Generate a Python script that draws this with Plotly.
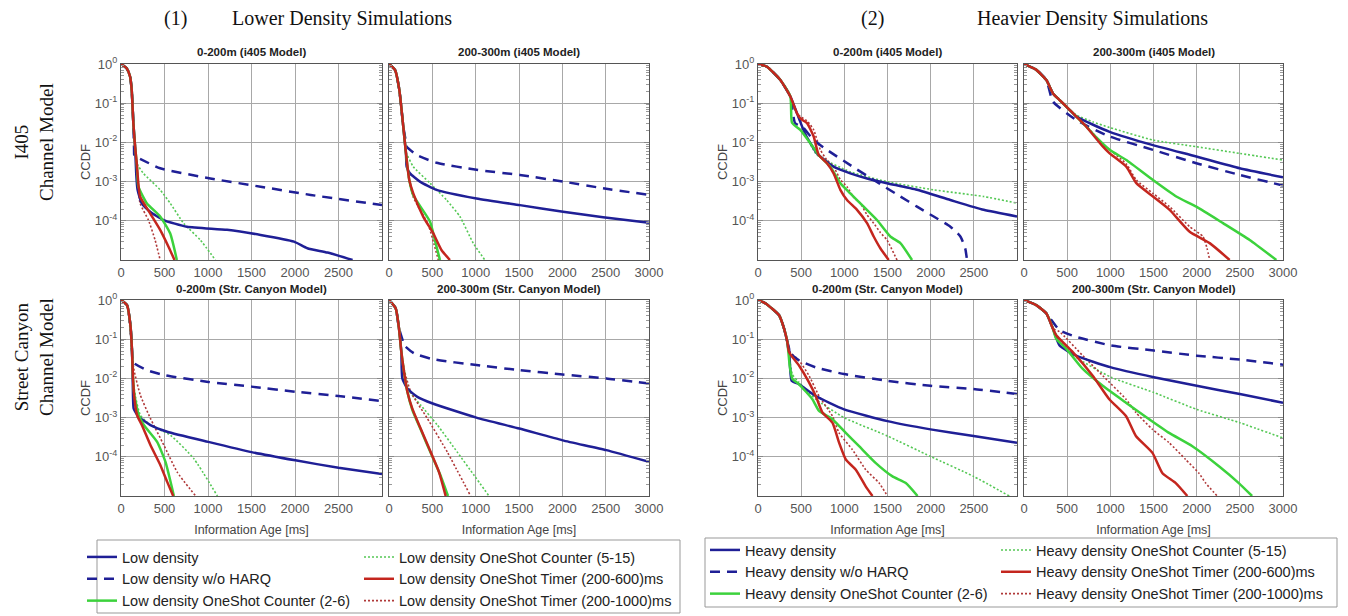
import plotly.graph_objects as go

W, H = 1348, 616

# ---------------- text / ticks ----------------
X_TICKS = [0, 500, 1000, 1500, 2000, 2500, 3000]
Y_TICK_VALUES = [1, 0.1, 0.01, 0.001, 0.0001]
Y_TICK_TEXT = ["10<sup>0</sup>", "10<sup>-1</sup>", "10<sup>-2</sup>", "10<sup>-3</sup>", "10<sup>-4</sup>"]
PANEL_TITLES = ["0-200m (i405 Model)", "200-300m (i405 Model)", "0-200m (i405 Model)", "200-300m (i405 Model)",
                "0-200m (Str. Canyon Model)", "200-300m (Str. Canyon Model)",
                "0-200m (Str. Canyon Model)", "200-300m (Str. Canyon Model)"]
LOW_NAMES = ["Low density", "Low density w/o HARQ", "Low density OneShot Counter (2-6)",
             "Low density OneShot Counter (5-15)", "Low density OneShot Timer (200-600)ms",
             "Low density OneShot Timer (200-1000)ms"]
HEAVY_NAMES = ["Heavy density", "Heavy density w/o HARQ", "Heavy density OneShot Counter (2-6)",
               "Heavy density OneShot Counter (5-15)", "Heavy density OneShot Timer (200-600)ms",
               "Heavy density OneShot Timer (200-1000)ms"]

# ---------------- data (x in ms, y as log10 of CCDF) ----------------
# Panel 1: low density, i405, 0-200m
P1_SOLID_X = [0, 65, 104, 123, 142, 162, 175, 190, 238, 335, 488, 758, 1219, 1604, 1988, 2142, 2373, 2662]
P1_SOLID_E = [0, -0.11, -0.32, -0.66, -1.51, -2.11, -2.8, -3.2, -3.55, -3.77, -3.98, -4.15, -4.23, -4.36, -4.53, -4.7, -4.81, -5.0]
P1_NHARQ_X = [0, 65, 104, 123, 142, 150, 155, 219, 450, 1027, 1604, 2181, 3000]
P1_NHARQ_E = [0, -0.11, -0.32, -0.66, -1.51, -2.15, -2.35, -2.42, -2.66, -2.92, -3.13, -3.34, -3.6]
P1_CNT26_X = [0, 65, 104, 123, 142, 162, 181, 200, 296, 450, 565, 642]
P1_CNT26_E = [0, -0.11, -0.32, -0.66, -1.51, -2.11, -2.53, -3.13, -3.55, -3.89, -4.32, -5.0]
P1_CNT515_X = [0, 65, 104, 123, 142, 162, 181, 258, 450, 565, 719, 912, 1085]
P1_CNT515_E = [0, -0.11, -0.32, -0.66, -1.51, -2.11, -2.53, -2.79, -3.21, -3.55, -4.06, -4.49, -5.0]
P1_T600_X = [0, 65, 104, 123, 142, 162, 181, 219, 335, 450, 546, 615]
P1_T600_E = [0, -0.11, -0.32, -0.66, -1.51, -2.11, -2.53, -3.38, -3.81, -4.23, -4.66, -5.0]
P1_T1000_X = [0, 65, 104, 123, 142, 162, 181, 219, 315, 392, 450]
P1_T1000_E = [0, -0.11, -0.32, -0.66, -1.51, -2.11, -2.53, -3.55, -3.98, -4.49, -5.0]

# Panel 2: low density, i405, 200-300m
P2_SOLID_X = [0, 69, 119, 165, 196, 204, 242, 357, 549, 1010, 1510, 2009, 2470, 3000]
P2_SOLID_E = [0, -0.15, -0.66, -1.6, -2.28, -2.62, -2.79, -3.0, -3.21, -3.43, -3.6, -3.77, -3.91, -4.05]
P2_NHARQ_X = [0, 69, 119, 165, 200, 204, 319, 549, 1010, 1510, 2009, 2470, 3000]
P2_NHARQ_E = [0, -0.15, -0.66, -1.6, -2.05, -2.11, -2.32, -2.52, -2.7, -2.83, -3.0, -3.17, -3.34]
P2_CNT26_X = [0, 69, 119, 165, 196, 234, 280, 473, 530, 588]
P2_CNT26_E = [0, -0.15, -0.66, -1.6, -2.28, -2.96, -3.35, -4.02, -4.5, -5.0]
P2_CNT515_X = [0, 69, 119, 165, 196, 204, 280, 473, 665, 818, 972, 1106]
P2_CNT515_E = [0, -0.15, -0.66, -1.6, -2.28, -2.3, -2.62, -3.04, -3.47, -3.89, -4.57, -5.0]
P2_T600_X = [0, 69, 119, 165, 196, 234, 280, 396, 511, 607, 703]
P2_T600_E = [0, -0.15, -0.66, -1.6, -2.28, -2.96, -3.3, -3.9, -4.32, -4.75, -5.0]
P2_T1000_X = [0, 69, 119, 165, 196, 234, 280, 453, 520, 569]
P2_T1000_E = [0, -0.15, -0.66, -1.6, -2.28, -3.0, -3.4, -4.1, -4.6, -5.0]

# Panel 3: heavy density, i405, 0-200m
P3_SOLID_X = [0, 104, 259, 375, 452, 550, 683, 876, 1069, 1263, 1494, 1842, 2228, 2614, 3000]
P3_SOLID_E = [0, -0.07, -0.41, -0.83, -1.26, -1.8, -2.28, -2.62, -2.79, -2.92, -3.04, -3.21, -3.47, -3.72, -3.89]
P3_NHARQ_X = [0, 104, 259, 375, 430, 520, 645, 799, 1069, 1340, 1649, 1842, 2035, 2228, 2344, 2400, 2421]
P3_NHARQ_E = [0, -0.07, -0.41, -0.83, -1.51, -1.62, -1.94, -2.19, -2.58, -2.96, -3.38, -3.64, -3.89, -4.15, -4.4, -4.7, -5.0]
P3_CNT26_X = [0, 104, 259, 375, 394, 490, 606, 703, 838, 954, 1069, 1224, 1378, 1533, 1649, 1784]
P3_CNT26_E = [0, -0.07, -0.41, -0.83, -1.5, -1.68, -2.02, -2.32, -2.62, -3.04, -3.3, -3.64, -3.98, -4.4, -4.57, -5.0]
P3_CNT515_X = [0, 104, 259, 375, 452, 550, 683, 1069, 1494, 2035, 2614, 3000]
P3_CNT515_E = [0, -0.07, -0.41, -0.83, -1.26, -1.8, -2.32, -2.75, -3.0, -3.21, -3.38, -3.55]
P3_T600_X = [0, 104, 259, 375, 452, 490, 568, 645, 703, 799, 876, 954, 1031, 1147, 1263, 1340, 1417, 1514]
P3_T600_E = [0, -0.07, -0.41, -0.83, -1.26, -1.39, -1.51, -1.85, -2.32, -2.53, -2.79, -3.21, -3.47, -3.72, -4.06, -4.4, -4.7, -5.0]
P3_T1000_X = [0, 104, 259, 375, 452, 490, 568, 645, 722, 799, 876, 954, 1031, 1108, 1185, 1263, 1340, 1417, 1494, 1610]
P3_T1000_E = [0, -0.07, -0.41, -0.83, -1.26, -1.34, -1.45, -1.68, -2.19, -2.45, -2.62, -2.95, -3.13, -3.4, -3.55, -3.85, -4.06, -4.3, -4.49, -5.0]

# Panel 4: heavy density, i405, 200-300m
P4_SOLID_X = [0, 143, 259, 336, 413, 510, 606, 800, 992, 1494, 1996, 2498, 3000]
P4_SOLID_E = [0, -0.15, -0.41, -0.75, -0.92, -1.13, -1.34, -1.55, -1.73, -2.07, -2.36, -2.66, -2.89]
P4_NHARQ_X = [0, 143, 259, 336, 606, 992, 1494, 1996, 2498, 3000]
P4_NHARQ_E = [0, -0.15, -0.41, -0.96, -1.43, -1.85, -2.19, -2.53, -2.83, -3.1]
P4_CNT26_X = [0, 143, 259, 336, 413, 510, 606, 722, 850, 992, 1185, 1494, 1764, 1996, 2305, 2614, 2923]
P4_CNT26_E = [0, -0.15, -0.41, -0.75, -0.92, -1.13, -1.34, -1.6, -1.9, -2.19, -2.45, -2.96, -3.38, -3.64, -4.06, -4.49, -5.0]
P4_CNT515_X = [0, 143, 259, 336, 413, 510, 606, 800, 992, 1494, 1996, 2498, 3000]
P4_CNT515_E = [0, -0.15, -0.41, -0.75, -0.92, -1.13, -1.3, -1.48, -1.62, -1.94, -2.11, -2.28, -2.45]
P4_T600_X = [0, 143, 259, 336, 413, 510, 606, 722, 915, 992, 1185, 1301, 1494, 1687, 1919, 2151, 2382]
P4_T600_E = [0, -0.15, -0.41, -0.75, -0.92, -1.13, -1.34, -1.6, -2.11, -2.28, -2.62, -3.04, -3.38, -3.72, -4.28, -4.57, -5.0]
P4_T1000_X = [0, 143, 259, 336, 413, 510, 606, 722, 915, 992, 1185, 1301, 1494, 1687, 1919, 2073, 2120, 2151]
P4_T1000_E = [0, -0.15, -0.41, -0.75, -0.92, -1.13, -1.34, -1.58, -2.05, -2.19, -2.55, -2.96, -3.3, -3.64, -4.15, -4.4, -4.7, -5.0]

# Panel 5: low density, street canyon, 0-200m
P5_SOLID_X = [0, 69, 108, 127, 138, 140, 146, 204, 338, 531, 1004, 1500, 2004, 2500, 3000]
P5_SOLID_E = [0, -0.13, -0.64, -1.32, -2.45, -2.6, -2.77, -2.98, -3.19, -3.36, -3.62, -3.88, -4.09, -4.28, -4.44]
P5_NHARQ_X = [0, 69, 108, 127, 138, 300, 504, 1004, 1500, 2004, 2500, 3000]
P5_NHARQ_E = [0, -0.13, -0.64, -1.32, -1.59, -1.79, -1.92, -2.09, -2.21, -2.34, -2.45, -2.58]
P5_CNT26_X = [0, 69, 108, 127, 138, 154, 204, 262, 415, 511, 608]
P5_CNT26_E = [0, -0.13, -0.64, -1.32, -2.0, -2.43, -2.94, -3.19, -3.62, -4.13, -5.0]
P5_CNT515_X = [0, 69, 108, 127, 138, 165, 223, 338, 569, 838, 1108]
P5_CNT515_E = [0, -0.13, -0.64, -1.32, -2.0, -2.45, -2.94, -3.19, -3.45, -4.05, -5.0]
P5_T600_X = [0, 69, 108, 127, 138, 154, 185, 242, 338, 454, 531, 600]
P5_T600_E = [0, -0.13, -0.64, -1.32, -2.0, -2.51, -2.94, -3.2, -3.7, -4.22, -4.64, -5.0]
P5_T1000_X = [0, 69, 108, 146, 223, 338, 492, 646, 858]
P5_T1000_E = [0, -0.13, -0.85, -1.75, -2.43, -3.02, -3.7, -4.39, -5.0]

# Panel 6: low density, street canyon, 200-300m
P6_SOLID_X = [0, 77, 115, 142, 154, 212, 327, 504, 1008, 1504, 2004, 2508, 3000]
P6_SOLID_E = [0, -0.21, -0.72, -1.32, -2.0, -2.26, -2.47, -2.64, -3.0, -3.28, -3.58, -3.83, -4.13]
P6_NHARQ_X = [0, 77, 115, 160, 173, 288, 504, 1008, 1504, 2004, 2508, 3000]
P6_NHARQ_E = [0, -0.21, -0.72, -1.05, -1.15, -1.36, -1.51, -1.66, -1.79, -1.9, -2.0, -2.13]
P6_CNT26_X = [0, 77, 115, 142, 173, 212, 269, 365, 481, 590, 681]
P6_CNT26_E = [0, -0.21, -0.72, -1.32, -1.83, -2.34, -2.8, -3.3, -3.9, -4.45, -5.0]
P6_CNT515_X = [0, 77, 115, 142, 173, 212, 365, 558, 788, 981, 1154]
P6_CNT515_E = [0, -0.21, -0.72, -1.32, -1.83, -2.26, -2.68, -3.19, -3.88, -4.47, -5.0]
P6_T600_X = [0, 77, 115, 142, 173, 212, 269, 365, 481, 577, 654]
P6_T600_E = [0, -0.21, -0.72, -1.32, -1.83, -2.34, -2.77, -3.28, -3.88, -4.39, -5.0]
P6_T1000_X = [0, 77, 115, 142, 173, 250, 442, 673, 942]
P6_T1000_E = [0, -0.21, -0.72, -1.32, -1.75, -2.34, -3.02, -3.88, -5.0]

# Panel 7: heavy density, street canyon, 0-200m
P7_SOLID_X = [0, 89, 244, 302, 340, 360, 390, 475, 669, 997, 1500, 1998, 2497, 3000]
P7_SOLID_E = [0, -0.09, -0.39, -0.73, -1.07, -1.24, -2.06, -2.15, -2.45, -2.79, -3.09, -3.3, -3.47, -3.64]
P7_NHARQ_X = [0, 89, 244, 302, 340, 360, 475, 669, 997, 1500, 1998, 2497, 3000]
P7_NHARQ_E = [0, -0.09, -0.39, -0.73, -1.07, -1.33, -1.54, -1.72, -1.89, -2.06, -2.19, -2.27, -2.4]
P7_CNT26_X = [0, 89, 244, 302, 340, 367, 398, 475, 630, 707, 862, 1017, 1171, 1365, 1558, 1712, 1848]
P7_CNT26_E = [0, -0.09, -0.39, -0.73, -1.07, -1.67, -2.01, -2.15, -2.53, -2.83, -3.04, -3.39, -3.73, -4.16, -4.5, -4.67, -5.0]
P7_CNT515_X = [0, 89, 244, 302, 340, 398, 475, 669, 997, 1500, 1998, 2497, 2911]
P7_CNT515_E = [0, -0.09, -0.39, -0.73, -1.07, -1.9, -2.1, -2.53, -3.0, -3.47, -3.99, -4.5, -5.0]
P7_T600_X = [0, 89, 244, 302, 340, 360, 475, 591, 669, 746, 862, 939, 1017, 1133, 1249, 1326]
P7_T600_E = [0, -0.09, -0.39, -0.73, -1.07, -1.33, -1.67, -2.1, -2.45, -2.87, -3.13, -3.64, -4.07, -4.33, -4.76, -5.0]
P7_T1000_X = [0, 89, 244, 302, 340, 360, 475, 591, 707, 862, 939, 1094, 1249, 1403, 1500]
P7_T1000_E = [0, -0.09, -0.39, -0.73, -1.07, -1.3, -1.54, -1.93, -2.45, -2.96, -3.39, -3.82, -4.33, -4.67, -5.0]

# Panel 8: heavy density, street canyon, 200-300m
P8_SOLID_X = [0, 142, 258, 335, 412, 604, 1008, 1504, 2000, 2500, 3000]
P8_SOLID_E = [0, -0.13, -0.34, -0.73, -1.16, -1.42, -1.72, -1.97, -2.19, -2.4, -2.62]
P8_NHARQ_X = [0, 142, 258, 412, 604, 1008, 1504, 2000, 2500, 3000]
P8_NHARQ_E = [0, -0.13, -0.34, -0.77, -0.94, -1.16, -1.29, -1.42, -1.52, -1.65]
P8_CNT26_X = [0, 142, 258, 335, 373, 488, 681, 912, 1181, 1450, 1681, 1950, 2258, 2488, 2642]
P8_CNT26_E = [0, -0.13, -0.34, -0.73, -0.99, -1.24, -1.76, -2.19, -2.62, -3.04, -3.39, -3.73, -4.24, -4.67, -5.0]
P8_CNT515_X = [0, 142, 258, 335, 412, 604, 1008, 1504, 2000, 2500, 3000]
P8_CNT515_E = [0, -0.13, -0.34, -0.73, -1.0, -1.46, -1.97, -2.36, -2.79, -3.13, -3.52]
P8_T600_X = [0, 142, 258, 335, 373, 565, 796, 988, 1181, 1296, 1488, 1604, 1758, 1892]
P8_T600_E = [0, -0.13, -0.34, -0.73, -0.9, -1.33, -1.93, -2.53, -2.96, -3.47, -3.9, -4.42, -4.67, -5.0]
P8_T1000_X = [0, 142, 258, 335, 412, 681, 912, 1181, 1296, 1488, 1681, 1873, 2027, 2104, 2238]
P8_T1000_E = [0, -0.13, -0.34, -0.73, -0.81, -1.42, -1.93, -2.53, -2.87, -3.3, -3.64, -4.07, -4.42, -4.67, -5.0]

# ---------------- styles ----------------
BLUE = "#1f1f96"
GREEN = "#3cd23c"
GREEN_DOT = "#55c855"
RED = "#c4261e"
RED_DOT = "#b03838"
STYLE = {
    "solid": dict(color=BLUE, width=2.5, dash="solid"),
    "nharq": dict(color=BLUE, width=2.5, dash="10px,7px"),
    "cnt26": dict(color=GREEN, width=2.5, dash="solid"),
    "cnt515": dict(color=GREEN_DOT, width=1.6, dash="2px,2px"),
    "t600": dict(color=RED, width=2.5, dash="solid"),
    "t1000": dict(color=RED_DOT, width=1.6, dash="2px,2px"),
}
KEYS = ["solid", "nharq", "cnt26", "cnt515", "t600", "t1000"]
DRAW_ORDER = ["cnt515", "t1000", "solid", "nharq", "cnt26", "t600"]
LEGEND_COL = {"solid": 0, "nharq": 0, "cnt26": 0, "cnt515": 1, "t600": 1, "t1000": 1}
LEGEND_RANK = {"solid": 1, "nharq": 2, "cnt26": 3, "cnt515": 1, "t600": 2, "t1000": 3}

g = globals()
PANELS = []
for p in range(1, 9):
    PANELS.append({k: (g[f"P{p}_{k.upper()}_X"], g[f"P{p}_{k.upper()}_E"]) for k in KEYS})

# panel pixel boxes (left, right, top, bottom)
COLS = [(121, 382), (389, 649), (758, 1017), (1024, 1283)]
ROWS = [(64, 260), (300, 496)]
TITLE_Y = [52, 289]


def px(x):
    return x / W


def py(y):
    return 1 - y / H


fig = go.Figure()
FONT = "Liberation Sans, Arial, sans-serif"
minor_vals = [k * 10 ** e for e in range(-5, 0) for k in range(2, 10)]

for i in range(8):
    n = i + 1
    r, c = divmod(i, 4)
    heavy = c >= 2
    names = HEAVY_NAMES if heavy else LOW_NAMES
    data = PANELS[i]
    for key in DRAW_ORDER:
        xs, es = data[key]
        ys = [10 ** e for e in es]
        st = STYLE[key]
        show = (n == 1) or (n == 3)
        leg_base = 2 if heavy else 0
        leg_idx = leg_base + LEGEND_COL[key] + 1
        legname = "legend" if leg_idx == 1 else f"legend{leg_idx}"
        fig.add_trace(go.Scatter(
            x=xs, y=ys, mode="lines", name=names[KEYS.index(key)],
            line=dict(color=st["color"], width=st["width"], dash=st["dash"], shape="spline", smoothing=0.5),
            xaxis=f"x{n}", yaxis=f"y{n}", showlegend=show, legend=legname,
            legendrank=LEGEND_RANK[key], hoverinfo="skip"))

    l, rr = COLS[c]
    t, b = ROWS[r]
    left_of_pair = c in (0, 2)
    xt = X_TICKS[:-1] if left_of_pair else X_TICKS
    xa = dict(domain=[px(l), px(rr)], anchor=f"y{n}", range=[0, 3000], tickvals=xt, automargin=False,
              ticktext=[str(v) for v in xt], showline=True, mirror=True, linecolor="#555", linewidth=1,
              showgrid=True, gridcolor="#a8a8a8", gridwidth=1, ticks="", zeroline=False,
              tickfont=dict(family=FONT, size=13, color="#555"))
    if r == 1:
        xa["title"] = dict(text="Information Age [ms]", font=dict(family=FONT, size=12.5, color="#444"), standoff=10)
    ya = dict(domain=[py(b), py(t)], anchor=f"x{n}", type="log", range=[-5, 0], automargin=False,
              tickvals=Y_TICK_VALUES, ticktext=Y_TICK_TEXT, showticklabels=left_of_pair,
              showline=True, mirror="allticks", linecolor="#555", linewidth=1,
              showgrid=True, gridcolor="#a8a8a8", gridwidth=1, ticks="inside", ticklen=5, tickcolor="#888",
              minor=dict(tickvals=minor_vals, ticks="inside", ticklen=3, tickcolor="#999", showgrid=False),
              zeroline=False, tickfont=dict(family=FONT, size=13, color="#555"))
    if left_of_pair:
        ya["title"] = dict(text="CCDF", font=dict(family=FONT, size=13, color="#444"), standoff=1)
    fig.layout[f"xaxis{n}"] = xa
    fig.layout[f"yaxis{n}"] = ya
    fig.add_annotation(x=px((l + rr) / 2), y=py(TITLE_Y[r]), xref="paper", yref="paper",
                       xanchor="center", yanchor="middle",
                       text=f"<b>{PANEL_TITLES[i]}</b>", showarrow=False,
                       font=dict(family=FONT, size=11.5, color="#222"))

SERIF = "Liberation Serif, Times New Roman, serif"
for txt, x in [("(1)", 175), ("Lower Density Simulations", 342), ("(2)", 872), ("Heavier Density Simulations", 1092)]:
    fig.add_annotation(x=px(x), y=py(18), xref="paper", yref="paper", text=txt, showarrow=False,
                       xanchor="center", yanchor="middle",
                       font=dict(family=SERIF, size=20, color="#111"))
for txt, y in [("I405<br>Channel Model", 142), ("Street Canyon<br>Channel Model", 357)]:
    fig.add_annotation(x=px(34), y=py(y), xref="paper", yref="paper", text=txt, showarrow=False, textangle=-90,
                       xanchor="center", yanchor="middle",
                       font=dict(family=SERIF, size=19, color="#111"))

# legend boxes
fig.add_shape(type="rect", xref="paper", yref="paper", x0=px(97), x1=px(680), y0=py(613), y1=py(540),
              line=dict(color="#999", width=1))
fig.add_shape(type="rect", xref="paper", yref="paper", x0=px(705), x1=px(1337), y0=py(607), y1=py(538),
              line=dict(color="#999", width=1))

leg_common = dict(orientation="v", yanchor="top", xanchor="left", bgcolor="rgba(0,0,0,0)", borderwidth=0,
                  font=dict(family=FONT, size=14.5, color="#222"), itemwidth=30, tracegroupgap=0)
fig.update_layout(
    width=W, height=H, margin=dict(l=0, r=0, t=0, b=0, autoexpand=False),
    paper_bgcolor="white", plot_bgcolor="white",
    legend=dict(x=px(82), y=py(541), **leg_common),
    legend2=dict(x=px(359), y=py(541), **leg_common),
    legend3=dict(x=px(705), y=py(534), **leg_common),
    legend4=dict(x=px(996), y=py(534), **leg_common),
)

fig.write_html("out.html")
